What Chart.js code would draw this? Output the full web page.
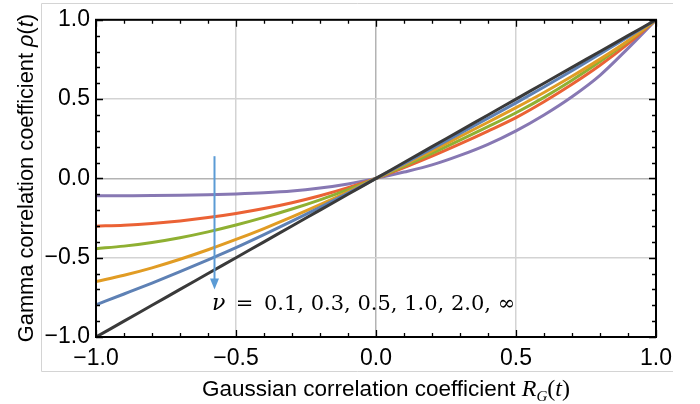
<!DOCTYPE html>
<html>
<head>
<meta charset="utf-8">
<script src="https://cdn.jsdelivr.net/npm/chart.js@4.4.1/dist/chart.umd.min.js"></script>
<style>
  html, body { margin: 0; padding: 0; background: #ffffff; }
  #wrap { width: 700px; height: 404px; position: relative; }
</style>
</head>
<body>
<div id="wrap"><canvas id="c" width="700" height="404"></canvas></div>
<script>
// Gaussian correlation coefficient R_G(t) sample points
const gaussianR = [-1, -0.9, -0.8, -0.7, -0.6, -0.5, -0.4, -0.3, -0.2, -0.1, 0,
                   0.1, 0.2, 0.3, 0.4, 0.5, 0.6, 0.7, 0.8, 0.9, 1];

// Gamma correlation coefficient rho(t) for each shape parameter nu
const rhoNuInf = [-1, -0.9, -0.8, -0.7, -0.6, -0.5, -0.4, -0.3, -0.2, -0.1, 0,
                  0.1, 0.2, 0.3, 0.4, 0.5, 0.6, 0.7, 0.8, 0.9, 1];
const rhoNu2   = [-0.797, -0.729, -0.66, -0.588, -0.514, -0.437, -0.355, -0.27, -0.183, -0.093, 0,
                  0.093, 0.188, 0.283, 0.379, 0.476, 0.576, 0.679, 0.785, 0.892, 1];
const rhoNu1   = [-0.651, -0.611, -0.564, -0.51, -0.45, -0.385, -0.316, -0.243, -0.166, -0.085, 0,
                  0.086, 0.174, 0.264, 0.354, 0.446, 0.542, 0.644, 0.752, 0.868, 1];
const rhoNu05  = [-0.443, -0.427, -0.404, -0.374, -0.337, -0.294, -0.246, -0.193, -0.135, -0.071, 0,
                  0.078, 0.158, 0.241, 0.326, 0.414, 0.511, 0.619, 0.737, 0.864, 1];
const rhoNu03  = [-0.301, -0.295, -0.284, -0.268, -0.247, -0.221, -0.19, -0.153, -0.109, -0.058, 0,
                  0.068, 0.14, 0.217, 0.298, 0.383, 0.483, 0.593, 0.713, 0.848, 1];
const rhoNu01  = [-0.11, -0.109, -0.108, -0.106, -0.103, -0.098, -0.091, -0.08, -0.061, -0.035, 0,
                  0.04, 0.085, 0.145, 0.215, 0.30, 0.40, 0.515, 0.65, 0.82, 1];

const nuLabels = ['\u221E', '2.0', '1.0', '0.5', '0.3', '0.1'];
const seriesColors = ['#3a3a3a', '#5e81b5', '#e19c24', '#8fb032', '#eb6235', '#8778b3'];
const seriesValues = [rhoNuInf, rhoNu2, rhoNu1, rhoNu05, rhoNu03, rhoNu01];

// axis ticks
const tickValues = [-1, -0.5, 0, 0.5, 1];
const minorStep = 0.1;

// arrow showing increasing nu, and its caption
const arrowX = -0.58, arrowFrom = 0.14, arrowTo = -0.70;
const captionX = -0.586, captionY = -0.832;
const captionText = '\u2002=\u20020.1, 0.3, 0.5, 1.0, 2.0, \u221E';

const SANS = '"Liberation Sans", Arial, sans-serif';
const SERIF = '"Liberation Serif", "Times New Roman", serif';

function fmt(v) {
  const s = Math.abs(v).toFixed(1);
  return v < 0 ? '\u2212' + s : s;
}

function drawParts(ctx, parts, cx, baseline) {
  let total = 0;
  parts.forEach(p => { ctx.font = p.f; p.w = ctx.measureText(p.t).width; total += p.w; });
  let x = cx - total / 2;
  ctx.textAlign = 'left';
  ctx.textBaseline = 'alphabetic';
  parts.forEach(p => { ctx.font = p.f; ctx.fillText(p.t, x, baseline + (p.dy || 0)); x += p.w; });
}

const decorations = {
  id: 'decorations',
  beforeDraw(chart) {
    const ctx = chart.ctx;
    ctx.save();
    ctx.strokeStyle = '#d4d4d4';
    ctx.lineWidth = 1;
    ctx.beginPath();
    ctx.moveTo(673, 3.5); ctx.lineTo(41.5, 3.5); ctx.lineTo(41.5, 371.5); ctx.lineTo(673, 371.5);
    ctx.stroke();
    ctx.restore();
  },
  afterDatasetsDraw(chart) {
    const ctx = chart.ctx;
    const a = chart.chartArea;
    const xs = chart.scales.x, ys = chart.scales.y;
    ctx.save();

    // frame
    ctx.strokeStyle = '#000';
    ctx.lineWidth = 2;
    ctx.strokeRect(a.left, a.top, a.right - a.left, a.bottom - a.top);

    // inward ticks on all four sides
    ctx.lineWidth = 1.3;
    ctx.beginPath();
    for (let i = -10; i <= 10; i++) {
      const v = i * minorStep;
      const major = (i % 5 === 0);
      const len = major ? 7 : 4;
      const px = Math.round(xs.getPixelForValue(v)) + 0.5;
      const py = Math.round(ys.getPixelForValue(v)) + 0.5;
      ctx.moveTo(px, a.bottom); ctx.lineTo(px, a.bottom - len);
      ctx.moveTo(px, a.top); ctx.lineTo(px, a.top + len);
      ctx.moveTo(a.left, py); ctx.lineTo(a.left + len, py);
      ctx.moveTo(a.right, py); ctx.lineTo(a.right - len, py);
    }
    ctx.stroke();

    // arrow
    const ax = Math.round(xs.getPixelForValue(arrowX)) + 0.5;
    const ay0 = ys.getPixelForValue(arrowFrom);
    const ay1 = ys.getPixelForValue(arrowTo);
    ctx.strokeStyle = '#5b9bd5';
    ctx.fillStyle = '#5b9bd5';
    ctx.lineWidth = 2;
    ctx.beginPath();
    ctx.moveTo(ax, ay0); ctx.lineTo(ax, ay1 - 8);
    ctx.stroke();
    ctx.beginPath();
    ctx.moveTo(ax - 4.5, ay1 - 11); ctx.lineTo(ax + 4.5, ay1 - 11); ctx.lineTo(ax, ay1);
    ctx.closePath();
    ctx.fill();

    // caption
    ctx.fillStyle = '#000';
    ctx.textAlign = 'left';
    ctx.textBaseline = 'alphabetic';
    const cx = xs.getPixelForValue(captionX), cy = ys.getPixelForValue(captionY);
    ctx.font = 'italic 22px "DejaVu Serif", serif';
    ctx.fillText('\u03BD', cx, cy);
    const nw = ctx.measureText('\u03BD').width;
    ctx.font = '21px "DejaVu Serif", serif';
    ctx.fillText(captionText, cx + nw, cy);

    // axis titles
    drawParts(ctx, [
      { t: 'Gaussian correlation coefficient ', f: '22.5px ' + SANS },
      { t: 'R', f: 'italic 24px ' + SERIF },
      { t: 'G', f: 'italic 15px ' + SERIF, dy: 5 },
      { t: '(', f: '24px ' + SERIF },
      { t: 't', f: 'italic 24px ' + SERIF },
      { t: ')', f: '24px ' + SERIF }
    ], 386, 396);

    ctx.translate(33, 178);
    ctx.rotate(-Math.PI / 2);
    drawParts(ctx, [
      { t: 'Gamma correlation coefficient ', f: '21.8px ' + SANS },
      { t: '\u03C1', f: 'italic 21.8px ' + SANS },
      { t: '(', f: '21.8px ' + SANS },
      { t: 't', f: 'italic 21.8px ' + SANS },
      { t: ')', f: '21.8px ' + SANS }
    ], 0, 0);

    ctx.restore();
  }
};

const datasets = seriesValues.map((vals, i) => ({
  label: '\u03BD = ' + nuLabels[i],
  data: gaussianR.map((r, k) => ({ x: r, y: vals[k] })),
  borderColor: seriesColors[i],
  backgroundColor: seriesColors[i],
  borderWidth: 3,
  pointRadius: 0,
  fill: false,
  cubicInterpolationMode: 'monotone'
}));

const axisCommon = {
  type: 'linear',
  min: -1,
  max: 1,
  afterBuildTicks(scale) { scale.ticks = tickValues.map(v => ({ value: v })); },
  ticks: {
    callback: v => fmt(v),
    color: '#000',
    font: { family: SANS, size: 23 },
    autoSkip: false,
    maxRotation: 0
  },
  grid: {
    drawTicks: false,
    lineWidth: 1.5,
    color: c => (c.tick && c.tick.value === 0) ? '#b3b3b3' : '#d3d3d3'
  },
  border: { display: false }
};

new Chart(document.getElementById('c'), {
  type: 'line',
  data: { datasets },
  options: {
    responsive: false,
    animation: false,
    devicePixelRatio: 1,
    layout: { padding: { left: 0, top: 16, right: 44, bottom: 0 } },
    plugins: { legend: { display: false }, tooltip: { enabled: false } },
    scales: {
      x: Object.assign({}, axisCommon, {
        position: 'bottom',
        ticks: Object.assign({}, axisCommon.ticks, { padding: 8 }),
        afterFit(s) { s.height = 67; }
      }),
      y: Object.assign({}, axisCommon, {
        position: 'left',
        ticks: Object.assign({}, axisCommon.ticks, { padding: 6 }),
        afterFit(s) { s.width = 96; }
      })
    }
  },
  plugins: [decorations]
});
</script>
</body>
</html>
